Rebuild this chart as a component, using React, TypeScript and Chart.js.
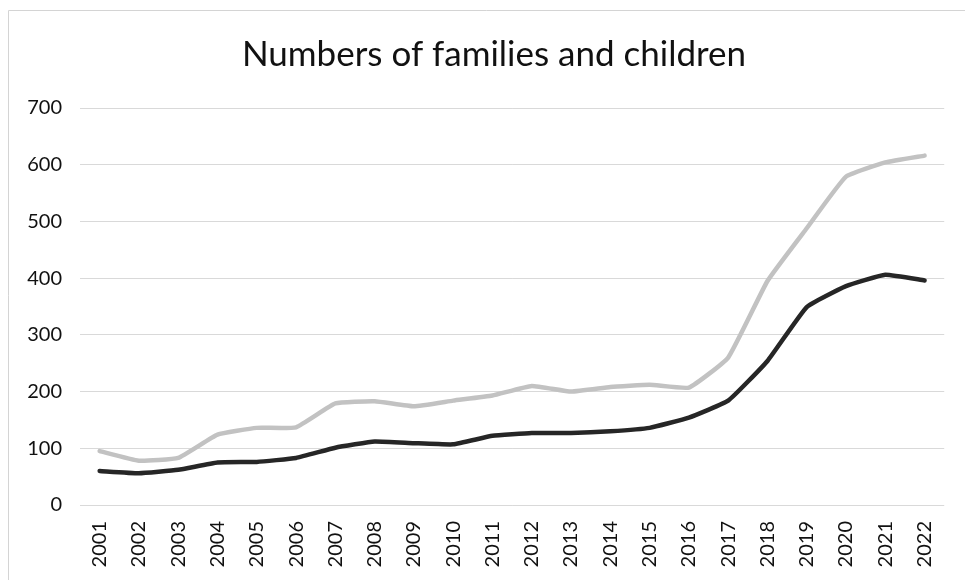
import React, { useEffect, useRef } from "react";
import { Chart, registerables } from "chart.js";

Chart.register(...registerables);

const years = [
  "2001", "2002", "2003", "2004", "2005", "2006", "2007", "2008", "2009", "2010", "2011",
  "2012", "2013", "2014", "2015", "2016", "2017", "2018", "2019", "2020", "2021", "2022",
];

// Children (light grey line)
const children = [
  95, 78, 83, 124, 136, 137, 179, 183, 174, 184, 193,
  210, 200, 208, 212, 207, 260, 395, 488, 579, 604, 616,
];

// Families (dark line)
const families = [
  60, 56, 62, 75, 76, 83, 101, 112, 109, 107, 122,
  127, 127, 130, 136, 154, 184, 254, 349, 386, 406, 396,
];

const yTicks = [0, 100, 200, 300, 400, 500, 600, 700];

const TITLE = "Numbers of families and children";
const FONT = "Lato, 'Open Sans', sans-serif";

// faint frame along the top and left edges, plus the chart heading
const framePlugin = {
  id: "frame",
  beforeDraw(chart: any) {
    const ctx = chart.ctx;
    ctx.save();
    ctx.strokeStyle = "#d4d4d4";
    ctx.lineWidth = 1;
    ctx.beginPath();
    ctx.moveTo(8.5, chart.height);
    ctx.lineTo(8.5, 10.5);
    ctx.lineTo(chart.width, 10.5);
    ctx.stroke();

    ctx.fillStyle = "#111";
    ctx.font = `normal 35px ${FONT}`;
    ctx.textAlign = "center";
    ctx.textBaseline = "middle";
    ctx.fillText(TITLE, 494, 55);
    ctx.restore();
  },
};

export default function App() {
  const ref = useRef<HTMLCanvasElement>(null);

  useEffect(() => {
    if (!ref.current) return;
    const chart = new Chart(ref.current, {
      type: "line",
      data: {
        labels: years,
        datasets: [
          {
            label: "Children",
            data: children,
            borderColor: "#c2c2c2",
            borderWidth: 4.5,
            pointRadius: 0,
            tension: 0.12,
            borderCapStyle: "round",
            borderJoinStyle: "round",
          },
          {
            label: "Families",
            data: families,
            borderColor: "#262626",
            borderWidth: 4.5,
            pointRadius: 0,
            tension: 0.12,
            borderCapStyle: "round",
            borderJoinStyle: "round",
          },
        ],
      },
      options: {
        animation: false,
        responsive: false,
        layout: { padding: { left: 0, right: 18, top: 108, bottom: 0 } },
        plugins: {
          legend: { display: false },
          tooltip: { enabled: false },
          title: { display: false },
        },
        scales: {
          x: {
            offset: true,
            grid: { display: false, drawTicks: false },
            border: { display: false },
            ticks: {
              minRotation: 90,
              maxRotation: 90,
              autoSkip: false,
              padding: 16,
              color: "#111",
              font: { family: FONT, size: 20 },
            },
            afterFit(scale: any) {
              scale.height = 75;
            },
          },
          y: {
            min: 0,
            max: 700,
            afterBuildTicks(scale: any) {
              scale.ticks = yTicks.map((v) => ({ value: v }));
            },
            grid: { color: "#d9d9d9", lineWidth: 1, drawTicks: false },
            border: { display: false },
            ticks: {
              padding: 18,
              color: "#111",
              font: { family: FONT, size: 20 },
            },
            afterFit(scale: any) {
              scale.width = 80;
            },
          },
        },
      },
      plugins: [framePlugin],
    });
    return () => chart.destroy();
  }, []);

  return (
    <div style={{ position: "fixed", left: 0, top: 0, width: 965, height: 580, background: "#fff" }}>
      <canvas ref={ref} width={965} height={580} />
    </div>
  );
}
